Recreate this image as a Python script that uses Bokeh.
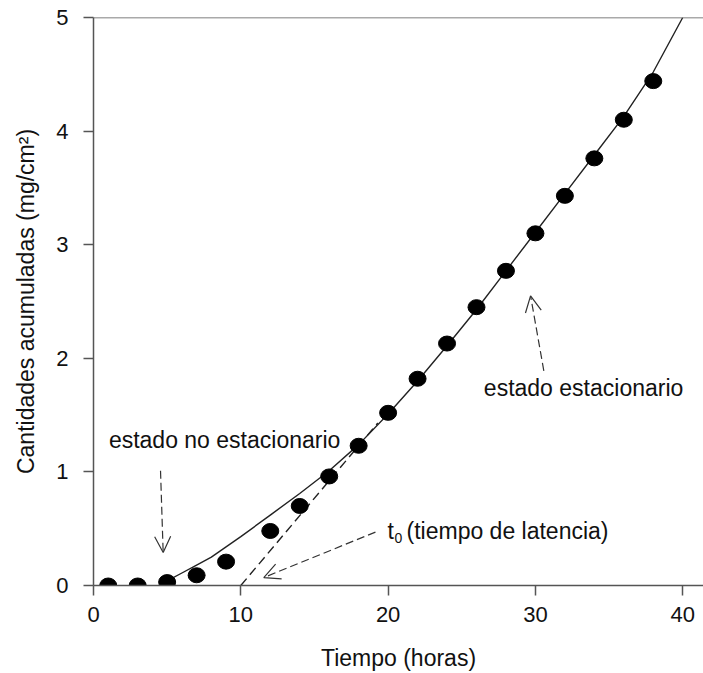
from bokeh.plotting import figure
from bokeh.models import (Range1d, FixedTicker, Span, Arrow, OpenHead)
from bokeh.core.properties import value
from bokeh.embed import file_html
from bokeh.resources import INLINE

# ---- data ----
tiempo = [1, 3, 5, 7, 9, 12, 14, 16, 18, 20, 22, 24, 26, 28, 30, 32, 34, 36, 38]
cantidad = [0.0, 0.0, 0.03, 0.09, 0.21, 0.48, 0.70, 0.96, 1.23, 1.52, 1.82, 2.13,
            2.45, 2.77, 3.10, 3.43, 3.76, 4.10, 4.44]

curva_x = [5, 6, 7, 8, 10, 12, 14, 16, 18, 20, 22, 24, 26, 28, 30, 32, 34, 36, 38, 40]
curva_y = [0.04, 0.11, 0.18, 0.25, 0.43, 0.62, 0.81, 1.01, 1.24, 1.51, 1.80, 2.11,
           2.43, 2.77, 3.11, 3.45, 3.79, 4.13, 4.52, 5.0]

tangente_x = [10, 19.3]
tangente_y = [0.0, 1.43]

x_ticks = [0, 10, 20, 30, 40]
y_ticks = [0, 1, 2, 3, 4, 5]

# annotation arrows: (x_start, y_start, x_end, y_end)
flecha_no_est = [4.55, 1.01, 4.73, 0.29]
flecha_t0 = [19.14, 0.47, 11.56, 0.07]
flecha_est = [30.57, 1.89, 29.67, 2.55]

FONT = "Liberation Sans"
AXC = "#555555"

p = figure(width=703, height=673, output_backend="svg", toolbar_location=None,
           x_range=Range1d(0, 41.41), y_range=Range1d(0, 5),
           min_border_left=93, min_border_right=0, min_border_top=17, min_border_bottom=88)
p.outline_line_color = None
p.xgrid.visible = False
p.ygrid.visible = False
p.background_fill_color = "white"
p.border_fill_color = "white"

for ax, ticks in ((p.xaxis[0], x_ticks), (p.yaxis[0], y_ticks)):
    ax.ticker = FixedTicker(ticks=ticks)
    ax.minor_tick_line_color = None
    ax.major_tick_in = 0
    ax.major_tick_out = 10
    ax.axis_line_color = AXC
    ax.axis_line_width = 1.5
    ax.major_tick_line_color = AXC
    ax.major_tick_line_width = 1.5
    ax.major_label_text_font = FONT
    ax.major_label_text_font_size = "22px"
    ax.major_label_text_color = "#111111"
    ax.major_label_standoff = 15
    ax.axis_label_text_font = FONT
    ax.axis_label_text_font_size = "23px"
    ax.axis_label_text_font_style = "normal"
    ax.axis_label_text_color = "#111111"

p.xaxis.major_label_standoff = 11
p.xaxis.axis_label = "Tiempo (horas)"
p.xaxis.axis_label_standoff = 20
p.yaxis.axis_label = "Cantidades acumuladas (mg/cm²)"
p.yaxis.axis_label_standoff = 14

p.add_layout(Span(location=5, dimension="width", line_color=AXC, line_width=1.5))

# fitted curve
p.line(curva_x, curva_y, line_color="#222222", line_width=1.4)
# tangent (steady state extrapolation)
p.line(tangente_x, tangente_y, line_color="#222222", line_width=1.4, line_dash="9 5")
# data points
p.ellipse(x=tiempo, y=cantidad, width=17, height=15, width_units="screen",
          height_units="screen", fill_color="black", line_color="black")

for f in (flecha_no_est, flecha_t0, flecha_est):
    p.add_layout(Arrow(x_start=f[0], y_start=f[1], x_end=f[2], y_end=f[3],
                       line_color="#333333", line_width=1.2, line_dash="8 4",
                       end=OpenHead(size=16, line_color="#333333", line_width=1.2)))

txt = dict(text_font=value(FONT), text_font_size="23px", text_color="#111111")
p.text(x=[8.9], y=[1.28], text=["estado no estacionario"], text_align="center",
       text_baseline="middle", **txt)
p.text(x=[33.27], y=[1.74], text=["estado estacionario"], text_align="center",
       text_baseline="middle", **txt)
p.text(x=[19.96], y=[0.48], text=["t"], text_align="left", text_baseline="middle", **txt)
p.text(x=[19.96], y=[0.48], text=["0"], text_align="left", text_baseline="middle",
       x_offset=7, y_offset=7, text_font=value(FONT), text_font_size="14px", text_color="#111111")
p.text(x=[19.96], y=[0.48], text=["(tiempo de latencia)"], text_align="left",
       text_baseline="middle", x_offset=19, **txt)

open("out.html", "w").write(file_html(p, INLINE))
